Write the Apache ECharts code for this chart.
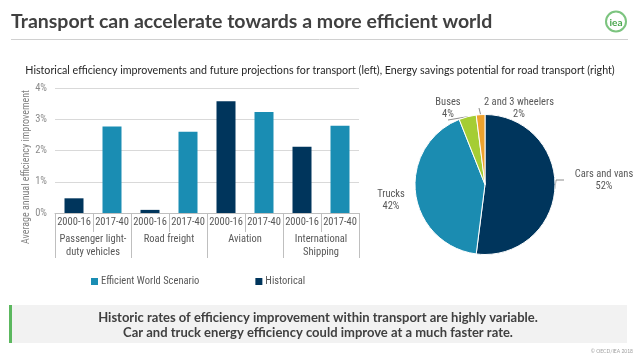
<!DOCTYPE html>
<html>
<head>
<meta charset="utf-8">
<script src="https://cdn.jsdelivr.net/npm/echarts@6/dist/echarts.min.js"></script>
<style>
html,body{margin:0;padding:0;background:#fff;}
#c{width:638px;height:359px;}
</style>
</head>
<body>
<div id="c"></div>
<script>
// ---- data ----
var groups = ['Passenger light-\nduty vehicles', 'Road freight', 'Aviation', 'International\nShipping'];
var periods = ['2000-16', '2017-40'];
var historical = [0.47, 0.10, 3.58, 2.12];        // 2000-16, % per year
var efficientWorld = [2.77, 2.60, 3.23, 2.79];    // 2017-40, % per year
var yTicks = [0, 1, 2, 3, 4];
var pieNames = ['Cars and vans', 'Trucks', 'Buses', '2 and 3 wheelers'];
var pieValues = [52, 42, 4, 2];

// ---- build ----
var NARROW = 'Roboto, "Liberation Sans", sans-serif';
var COND = 'condensed';
var cats = [], histData = [], ewsData = [];
groups.forEach(function (g, i) {
  cats.push(i + '|' + periods[0]); histData.push(historical[i]); ewsData.push(null);
  cats.push(i + '|' + periods[1]); histData.push(null); ewsData.push(efficientWorld[i]);
});
var NAVY = '#00355c', TEAL = '#1a8db3';
var pieColors = [NAVY, '#1b8cb1', '#a5cd34', '#eea22e'];
var pieData = pieNames.map(function (n, i) {
  return { name: n, value: pieValues[i], itemStyle: { color: pieColors[i] } };
});
var labelPos = [
  { x: 604, y: 180 },
  { x: 391, y: 200 },
  { x: 448, y: 108 },
  { x: 519, y: 108 }
];

var chart = echarts.init(document.getElementById('c'), null, { renderer: 'canvas' });
chart.setOption({
  animation: false,
  backgroundColor: '#ffffff',
  graphic: [
    { type: 'text', left: 11, top: 12, style: { text: 'Transport can accelerate towards a more efficient world', font: 'bold 19.5px Lato, sans-serif', fill: '#404040' } },
    { type: 'line', shape: { x1: 11, y1: 39.5, x2: 628, y2: 39.5 }, style: { stroke: '#d0d0d0', lineWidth: 1 } },
    { type: 'circle', shape: { cx: 616, cy: 21.5, r: 10 }, style: { fill: '#fff', stroke: '#7cc47f', lineWidth: 2 } },
    { type: 'text', x: 616, y: 22.5, style: { text: 'iea', font: 'bold 10px Lato, sans-serif', fill: '#4aa64e', align: 'center', verticalAlign: 'middle' } },
    { type: 'text', x: 320, y: 71, style: { text: 'Historical efficiency improvements and future projections for transport (left), Energy savings potential for road transport (right)', font: '10.7px Lato, sans-serif', fill: '#262626', align: 'center', verticalAlign: 'middle' } },
    { type: 'text', x: 26, y: 167, rotation: Math.PI / 2, style: { text: 'Average annual efficiency improvement', font: 'condensed 10px Roboto, sans-serif', fill: '#7f7f7f', align: 'center', verticalAlign: 'middle' } },
    { type: 'rect', shape: { x: 9, y: 305, width: 618, height: 38 }, style: { fill: '#f2f2f2' } },
    { type: 'rect', shape: { x: 9, y: 305, width: 3, height: 38 }, style: { fill: '#5cb85f' } },
    { type: 'text', x: 318, y: 318, style: { text: 'Historic rates of efficiency improvement within transport are highly variable.', font: 'bold 13px Lato, sans-serif', fill: '#404040', align: 'center', verticalAlign: 'middle' } },
    { type: 'text', x: 318, y: 333, style: { text: 'Car and truck energy efficiency could improve at a much faster rate.', font: 'bold 13px Lato, sans-serif', fill: '#404040', align: 'center', verticalAlign: 'middle' } },
    { type: 'text', x: 633, y: 351, style: { text: '© OECD/IEA 2018', font: '5px Lato, sans-serif', fill: '#a0a0a0', align: 'right', verticalAlign: 'middle' } }
  ],
  legend: {
    data: ['Efficient World Scenario', 'Historical'],
    left: 86, top: 271,
    icon: 'rect', itemWidth: 7, itemHeight: 7, itemGap: 56,
    textStyle: { fontFamily: NARROW, fontStyle: COND, fontSize: 10.5, color: '#595959', padding: [0, 0, 0, -2] },
    selectedMode: false
  },
  grid: { left: 55, right: 279, top: 88, bottom: 146, containLabel: false },
  xAxis: [
    {
      type: 'category', data: cats, gridIndex: 0, position: 'bottom',
      axisLine: { show: true, lineStyle: { color: '#bfbfbf', width: 1 } },
      axisTick: { show: true, interval: 0, length: 19, lineStyle: { color: '#bfbfbf' } },
      axisLabel: { interval: 0, margin: 4, fontFamily: NARROW, fontStyle: COND, fontSize: 10.5, color: '#595959',
        formatter: function (v) { return v.split('|')[1]; } }
    },
    {
      type: 'category', data: groups, gridIndex: 0, position: 'bottom', offset: 19,
      axisLine: { show: false },
      axisTick: { show: true, interval: 0, length: 26, lineStyle: { color: '#bfbfbf' } },
      axisLabel: { interval: 0, margin: 1, fontFamily: NARROW, fontStyle: COND, fontSize: 10.5, color: '#595959', lineHeight: 13 }
    }
  ],
  yAxis: {
    type: 'value', min: 0, max: 4, interval: 1,
    axisLine: { show: false }, axisTick: { show: false },
    axisLabel: { margin: 8, fontFamily: NARROW, fontStyle: COND, fontSize: 10.5, color: '#8c8c8c',
      formatter: function (v) { return yTicks.indexOf(v) >= 0 ? v + '%' : ''; } },
    splitLine: { lineStyle: { color: '#d9d9d9', width: 1 } }
  },
  series: [
    { name: 'Efficient World Scenario', type: 'bar', data: ewsData, barWidth: 19, barGap: '-100%', itemStyle: { color: TEAL } },
    { name: 'Historical', type: 'bar', data: histData, barWidth: 19, barGap: '-100%', itemStyle: { color: NAVY } },
    {
      name: 'Road savings', type: 'pie', center: [485, 184.5], radius: 70, startAngle: 90, clockwise: true,
      data: pieData,
      itemStyle: { borderColor: '#ffffff', borderWidth: 1 },
      label: { show: true, position: 'outside', overflow: 'none', formatter: '{b}\n{c}%', fontFamily: NARROW, fontStyle: COND, fontSize: 10.5, color: '#595959', lineHeight: 12, align: 'center' },
      labelLine: { show: true, length: 8, length2: 8, lineStyle: { color: '#8c8c8c', width: 1 } },
      labelLayout: function (p) {
        var q = labelPos[p.dataIndex];
        return { x: q.x, y: q.y, width: 80, align: 'center', verticalAlign: 'middle' };
      }
    }
  ]
});
</script>
</body>
</html>
